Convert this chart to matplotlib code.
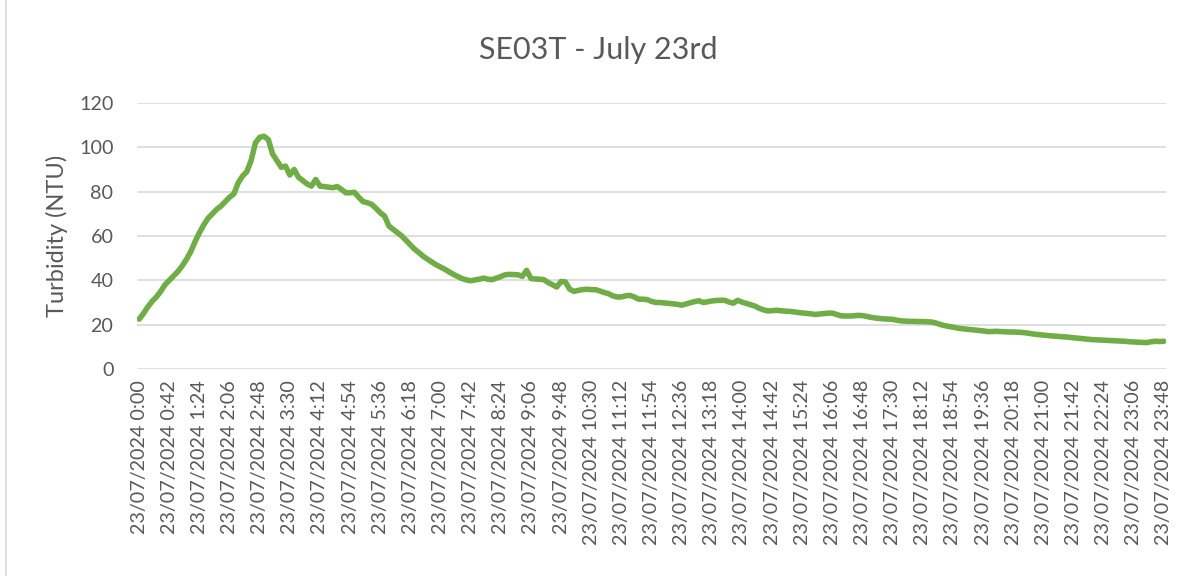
import matplotlib
matplotlib.use("Agg")
import matplotlib.pyplot as plt
from matplotlib.lines import Line2D

# ---- data ----
title = "SE03T - July 23rd"
y_label = "Turbidity (NTU)"

# 6-minute readings, 23/07/2024 0:00 .. 23:48
turbidity = [
    22.5, 25, 28, 30.5, 32.5, 35, 38, 40, 42, 44,
    46.5, 49.5, 53, 57.5, 61.5, 65, 68, 70, 72, 73.5,
    75.5, 77.5, 79, 84, 87, 89, 94, 102, 104.5, 105,
    103.5, 97, 94, 91, 91.5, 87.5, 90, 86.5, 85, 83.5,
    82.5, 85.5, 82.5, 82.3, 82, 81.8, 82.3, 81, 79.5, 79.5,
    79.7, 77.5, 75.5, 75, 74.3, 72.5, 70.5, 69, 64.5, 63,
    61.5, 60, 58, 56, 54, 52.5, 50.8, 49.5, 48.2, 47,
    46, 45, 43.8, 42.7, 41.7, 40.8, 40.2, 39.8, 40.2, 40.5,
    41, 40.5, 40.3, 41, 41.7, 42.5, 42.7, 42.6, 42.5, 41.8,
    44.5, 40.8, 40.6, 40.5, 40.3, 39, 38, 37, 39.5, 39.3,
    36, 35, 35.5, 35.8, 36, 35.8, 35.8, 35.2, 34.5, 34,
    33, 32.5, 32.5, 33, 33.2, 32.5, 31.5, 31.5, 31.3, 30.5,
    30, 30, 29.8, 29.6, 29.4, 29.2, 28.8, 29.3, 29.9, 30.4,
    30.8, 30, 30.3, 30.7, 30.9, 31, 31, 30.2, 29.7, 31,
    30.2, 29.6, 29, 28.4, 27.4, 26.7, 26.2, 26.3, 26.5, 26.3,
    26.1, 26, 25.8, 25.5, 25.3, 25.1, 24.9, 24.6, 24.8, 25,
    25.2, 25.2, 24.6, 24, 23.9, 23.9, 24, 24.2, 24.1, 23.7,
    23.3, 23, 22.8, 22.6, 22.5, 22.4, 22, 21.7, 21.6, 21.5,
    21.5, 21.4, 21.4, 21.3, 21.2, 20.8, 20.1, 19.6, 19.2, 18.9,
    18.5, 18.2, 18, 17.8, 17.6, 17.4, 17.2, 16.9, 16.9, 17,
    16.9, 16.8, 16.7, 16.7, 16.6, 16.5, 16.3, 16, 15.7, 15.5,
    15.3, 15.1, 14.9, 14.8, 14.6, 14.5, 14.3, 14.1, 13.9, 13.7,
    13.5, 13.3, 13.2, 13.1, 13, 12.9, 12.8, 12.7, 12.6, 12.5,
    12.3, 12.2, 12.1, 12, 11.9, 12.3, 12.5, 12.4, 12.5,
]

categories = [f"23/07/2024 {(6 * k) // 60}:{(6 * k) % 60:02d}" for k in range(len(turbidity))]

tick_labels = [
    "23/07/2024 0:00", "23/07/2024 0:42", "23/07/2024 1:24", "23/07/2024 2:06",
    "23/07/2024 2:48", "23/07/2024 3:30", "23/07/2024 4:12", "23/07/2024 4:54",
    "23/07/2024 5:36", "23/07/2024 6:18", "23/07/2024 7:00", "23/07/2024 7:42",
    "23/07/2024 8:24", "23/07/2024 9:06", "23/07/2024 9:48", "23/07/2024 10:30",
    "23/07/2024 11:12", "23/07/2024 11:54", "23/07/2024 12:36", "23/07/2024 13:18",
    "23/07/2024 14:00", "23/07/2024 14:42", "23/07/2024 15:24", "23/07/2024 16:06",
    "23/07/2024 16:48", "23/07/2024 17:30", "23/07/2024 18:12", "23/07/2024 18:54",
    "23/07/2024 19:36", "23/07/2024 20:18", "23/07/2024 21:00", "23/07/2024 21:42",
    "23/07/2024 22:24", "23/07/2024 23:06", "23/07/2024 23:48",
]
y_ticks = [0, 20, 40, 60, 80, 100, 120]

# ---- style ----
plt.rcParams['font.family'] = ['Lato', 'DejaVu Sans']
text_col = "#595959"
grid_col = "#D9D9D9"
line_col = "#70AD47"

fig = plt.figure(figsize=(11.87, 5.76), dpi=100)
W, H = 1187, 576
ax = fig.add_axes([137 / W, 1 - 369 / H, (1166 - 137) / W, (369 - 103) / H])

x = list(range(len(categories)))
ax.plot(x, turbidity, color=line_col, linewidth=4.0, solid_capstyle='round',
        solid_joinstyle='round', zorder=3)

ax.set_xlim(-0.5, len(categories) - 0.5)
ax.set_ylim(0, 120)
ax.set_yticks(y_ticks)
ax.set_yticklabels([str(v) for v in y_ticks])
tick_pos = [categories.index(t) for t in tick_labels]
ax.set_xticks(tick_pos)
ax.set_xticklabels(tick_labels, rotation=90, ha='center', va='top')

ax.grid(axis='y', color=grid_col, linewidth=1.2, zorder=0)
ax.set_axisbelow(True)
for s in ax.spines.values():
    s.set_visible(False)
ax.tick_params(axis='both', length=0, colors=text_col, labelsize=14.2)
ax.tick_params(axis='x', pad=8)
ax.tick_params(axis='y', pad=17)

ax.set_ylabel(y_label, fontsize=17, color=text_col, labelpad=8)
fig.text(598 / W, 1 - 50 / H, title, ha='center', va='center', fontsize=22, color=text_col)

# chart-area border (left edge visible)
fig.add_artist(Line2D([5.5 / W, 5.5 / W], [0, 1], transform=fig.transFigure,
                      color=grid_col, linewidth=1.2))

fig.savefig("out.png", dpi=100, facecolor="white")
